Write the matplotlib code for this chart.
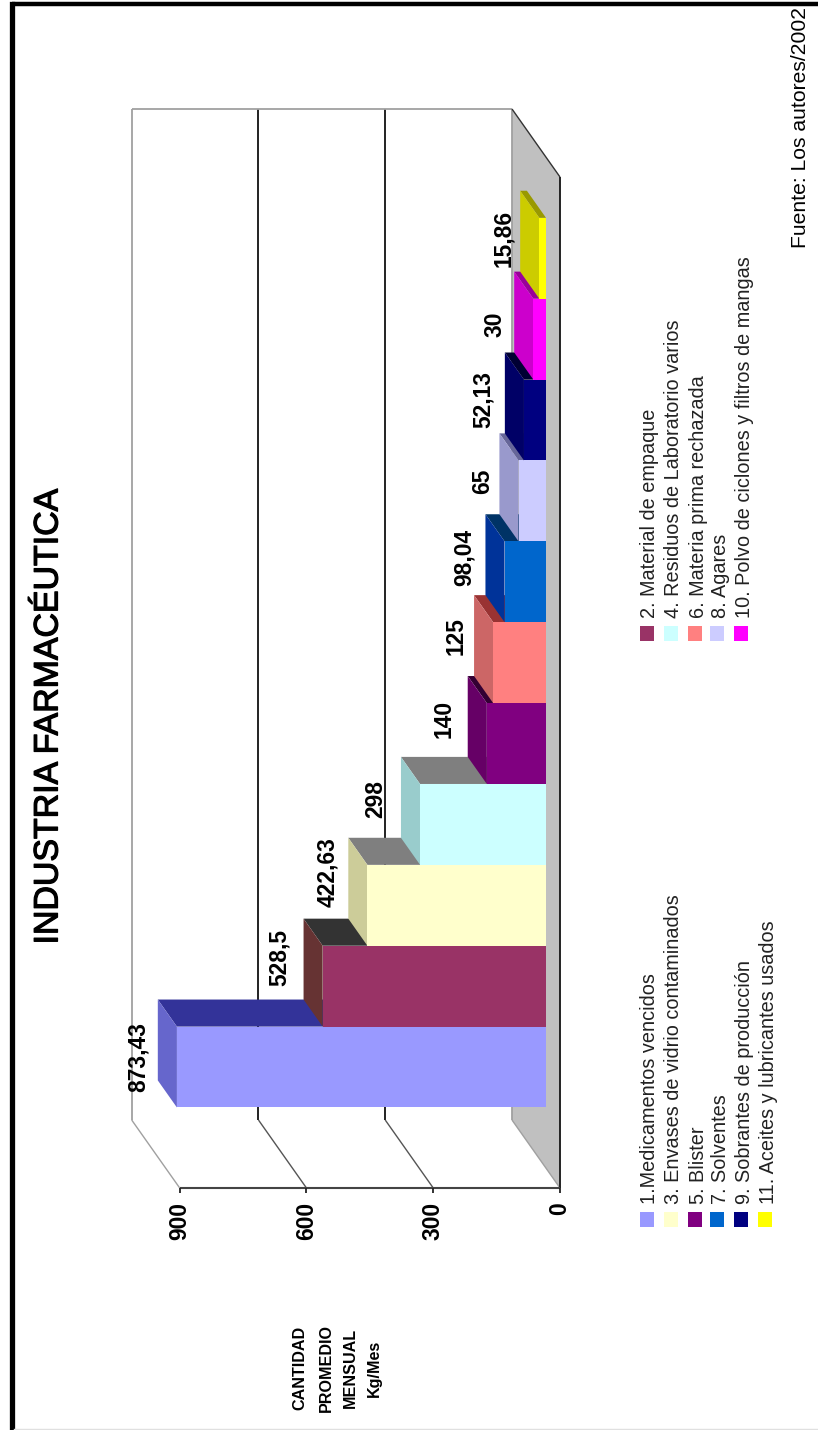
"""Industria farmaceutica: barras 3D rotadas 90 grados."""

import matplotlib

matplotlib.use("Agg")
import matplotlib.patheffects as pe
import matplotlib.pyplot as plt
from matplotlib.patches import Polygon, Rectangle

plt.rcParams["font.family"] = ["Liberation Sans", "DejaVu Sans"]

TITLE = "INDUSTRIA FARMACÉUTICA"
SOURCE = "Fuente: Los autores/2002"
AXIS_TITLE = ["CANTIDAD", "PROMEDIO", "MENSUAL", "Kg/Mes"]

SERIES = [
    "1.Medicamentos vencidos",
    "2. Material de empaque",
    "3. Envases de vidrio contaminados",
    "4. Residuos de Laboratorio varios",
    "5. Blister",
    "6. Materia prima rechazada",
    "7. Solventes",
    "8. Agares",
    "9. Sobrantes de producción",
    "10. Polvo de ciclones y filtros de mangas",
    "11. Aceites y lubricantes usados",
]
VALUES = [873.43, 528.5, 422.63, 298, 140, 125, 98.04, 65, 52.13, 30, 15.86]
TICKS = [0, 300, 600, 900]

FRONT = ["#9999FF", "#993366", "#FFFFCC", "#CCFFFF", "#800080", "#FF8080",
         "#0066CC", "#CCCCFF", "#000080", "#FF00FF", "#FFFF00"]
TOP = ["#6666CC", "#663333", "#CCCC99", "#99CCCC", "#660066", "#CC6666",
       "#003399", "#9999CC", "#000066", "#CC00CC", "#CCCC00"]
SIDE = ["#333399", "#333333", "#7F7F7F", "#7F7F7F", "#330033", "#993333",
        "#003366", "#666699", "#000033", "#990099", "#999900"]

# ajuste fino das etiquetas, em pixels (dx, dy na imagem)
LABEL_DX = [-20, -24, -21, -25, -24, -18, -21, -17, -22, -19, -17]
LABEL_DY = [17, -2, -6, 2, 3, 0, 3, 7, 7, 12, 7]

W, H = 818, 1430
WALL_L, WALL_R, WALL_T, WALL_B = 131.7, 512, 109, 1120
N_SLOTS = 12.5  # 11 series + gap
PX_V = (WALL_R - WALL_L) / 900
PX_S = (WALL_B - WALL_T) / N_SLOTS
DEPTH_PX = (48, 68)
BAR_FRONT, BAR_BACK = 0.708, 0.31


def proj(v, s, d):
    """valor, posicao da serie e profundidade -> coordenadas do eixo"""
    return v - d * DEPTH_PX[0] / PX_V, s - d * DEPTH_PX[1] / PX_S


def line(ax, p, q, color, lw=1.3, z=2):
    ax.plot(*zip(proj(*p), proj(*q)), color=color, lw=lw, zorder=z,
            clip_on=False, solid_capstyle="butt")


def draw_chart(ax):
    # chao
    floor = [proj(0, 0, 0), proj(0, N_SLOTS, 0), proj(0, N_SLOTS, 1), proj(0, 0, 1)]
    ax.add_patch(Polygon(floor, fc="#C0C0C0", ec="none", zorder=1, clip_on=False))

    # parede de fundo e lateral
    for v in TICKS:
        color = "#111111" if v in (300, 600) else "#A0A0A0"
        line(ax, (v, 0, 0), (v, N_SLOTS, 0), color)
        if v > 0:
            line(ax, (v, 0, 0), (v, 0, 1), "#555555" if v < 900 else "#A0A0A0", lw=1.0)
    line(ax, (0, 0, 0), (0, 0, 1), "#A0A0A0", lw=1.0)
    line(ax, (0, N_SLOTS, 0), (900, N_SLOTS, 0), "#A0A0A0")
    line(ax, (0, N_SLOTS, 0), (0, N_SLOTS, 1), "#333333", lw=1.0)
    line(ax, (0, 0, 1), (0, N_SLOTS, 1), "#222222", lw=1.4)
    line(ax, (0, 0, 1), (900, 0, 1), "#444444", lw=1.5)

    for v in TICKS:
        line(ax, (v, 0, 1), (v, -5 / PX_S, 1), "#222222", lw=1.3)
        x, y = proj(v, 0, 1)
        ax.annotate(str(v), (x, y), xytext=(0, -14 * 0.72), textcoords="offset points",
                    rotation=90, ha="center", va="top", fontsize=16.4,
                    fontweight="bold", annotation_clip=False)

    # barras
    for i, v in enumerate(VALUES):
        s0, s1 = 0.75 + i, 1.75 + i
        z = 5 + i
        side = [proj(0, s1, BAR_FRONT), proj(v, s1, BAR_FRONT),
                proj(v, s1, BAR_BACK), proj(0, s1, BAR_BACK)]
        top = [proj(v, s0, BAR_FRONT), proj(v, s1, BAR_FRONT),
               proj(v, s1, BAR_BACK), proj(v, s0, BAR_BACK)]
        front = [proj(0, s0, BAR_FRONT), proj(v, s0, BAR_FRONT),
                 proj(v, s1, BAR_FRONT), proj(0, s1, BAR_FRONT)]
        ax.add_patch(Polygon(side, fc=SIDE[i], ec="none", zorder=z, clip_on=False))
        ax.add_patch(Polygon(top, fc=TOP[i], ec="none", zorder=z, clip_on=False))
        ax.add_patch(Polygon(front, fc=FRONT[i], ec="none", zorder=z, clip_on=False))

        # etiqueta de valor
        txt = f"{v:g}".replace(".", ",")
        ax.annotate(txt, proj(v, (s0 + s1) / 2, BAR_BACK),
                    xytext=(LABEL_DX[i] * 0.72, -LABEL_DY[i] * 0.72),
                    textcoords="offset points", rotation=90, ha="center", va="center",
                    fontsize=16.4, fontweight="bold", zorder=30, annotation_clip=False)


def draw_page(page):
    # moldura
    page.plot([11.5, 11.5], [H, 4], color="#000000", lw=3.8, solid_capstyle="projecting")
    page.plot([11.5, W], [4, 4], color="#000000", lw=3.2, solid_capstyle="butt")
    page.plot([14, W], [1429, 1429], color="#E0E0E0", lw=1)

    title = page.text(49, 717, TITLE, rotation=90, ha="center", va="center", fontsize=24.4)
    title.set_path_effects([pe.withStroke(linewidth=0.9, foreground="black")])
    page.text(800.5, 128, SOURCE, rotation=90, ha="center", va="center", fontsize=15.2)

    for x, txt in zip([300, 326, 350, 374], AXIS_TITLE):
        page.text(x, 1368, txt, rotation=90, ha="center", va="center",
                  fontsize=11.6, fontweight="bold")

    # legenda em duas colunas
    rows = [646.5, 670.5, 695, 717, 741, 765]
    for i, label in enumerate(SERIES):
        x = rows[i // 2]
        y_sw, y_txt = (1212, 1204) if i % 2 == 0 else (626, 618)
        page.add_patch(Rectangle((x - 7, y_sw), 14, 15, fc=FRONT[i], ec="none"))
        page.text(x + 3, y_txt, label, rotation=90, ha="center", va="bottom",
                  fontsize=14.3, color="#222222")


def main():
    fig = plt.figure(figsize=(W / 100, H / 100), dpi=100, facecolor="white")

    page = fig.add_axes([0, 0, 1, 1])
    page.set_xlim(0, W)
    page.set_ylim(H, 0)
    page.axis("off")
    draw_page(page)

    ax = fig.add_axes([WALL_L / W, (H - WALL_B) / H, (WALL_R - WALL_L) / W, (WALL_B - WALL_T) / H])
    ax.set_xlim(900, 0)
    ax.set_ylim(0, N_SLOTS)
    ax.axis("off")
    draw_chart(ax)

    fig.savefig("out.png", dpi=100)
    plt.close(fig)


if __name__ == "__main__":
    main()
